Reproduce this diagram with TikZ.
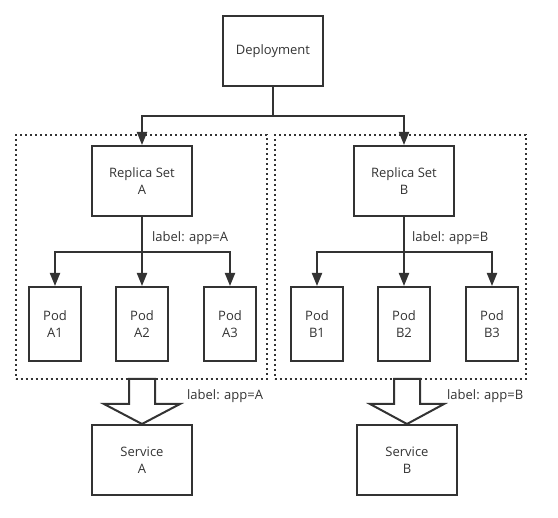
\documentclass[tikz,border=0pt]{standalone}
\usepackage{fontspec}
\setmainfont{Open Sans}
\usetikzlibrary{arrows.meta,positioning}
\definecolor{ink}{HTML}{333333}

\begin{document}
\begin{tikzpicture}[x=1pt,y=-1pt,font=\fontsize{13}{17}\selectfont,>={Triangle[length=13pt,width=10pt]},
box/.style={draw=ink,line width=2pt,text=ink,minimum width=100pt,minimum height=70pt,align=center,inner sep=0pt},
pod/.style={box,minimum width=52pt,minimum height=74pt},
group/.style={draw=ink,line width=2pt,dash pattern=on 2pt off 3pt,minimum width=251pt,minimum height=244pt,inner sep=0pt},
arr/.style={->,draw=ink,line width=2pt},
fat/.style={draw=ink,line width=2pt,fill=white,line join=miter},
lbl/.style={text=ink,anchor=west,inner sep=0pt}]
\useasboundingbox (0,0) rectangle (558,518);
\node[box] (dep) at (273,51) {Deployment};
\node[group] (grpA) at (141,257) {};
\node[group] (grpB) at (400,257) {};
\node[box] (rsA) at (142,181) {Replica Set\\A};
\node[box] (rsB) at (404,181) {Replica Set\\B};
\node[pod] (podA1) at (55,324) {Pod\\A1};
\node[pod] (podA2) at (142,324) {Pod\\A2};
\node[pod] (podA3) at (230,324) {Pod\\A3};
\node[pod] (podB1) at (317,324) {Pod\\B1};
\node[pod] (podB2) at (404,324) {Pod\\B2};
\node[pod] (podB3) at (492,324) {Pod\\B3};
\node[box] (svcA) at (142,460) {Service\\A};
\node[box] (svcB) at (407,460) {Service\\B};
\coordinate (split) at (273,116);
\coordinate (busA) at (142,252);
\coordinate (busB) at (404,252);
\draw[arr] (dep.south) -- (split) -| (rsA.north);
\draw[arr] (split) -| (rsB.north);
\draw[arr] (rsA.south) -- (podA2.north);
\draw[arr] (busA) -| (podA1.north);
\draw[arr] (busA) -| (podA3.north);
\draw[arr] (rsB.south) -- (podB2.north);
\draw[arr] (busB) -| (podB1.north);
\draw[arr] (busB) -| (podB3.north);
\node[lbl] (lblA) at (152,238) {label: app=A};
\node[lbl] (lblB) at (412,238) {label: app=B};
\draw[fat] (svcA.north) -- ++(-38,-20) -- ++(25,0) -- ++(0,-25) -- ++(26,0) -- ++(0,25) -- ++(25,0) -- cycle;
\draw[fat] (svcB.north) -- ++(-37,-20) -- ++(24,0) -- ++(0,-25) -- ++(26,0) -- ++(0,25) -- ++(24,0) -- cycle;
\node[lbl] (selA) at (187,396) {label: app=A};
\node[lbl] (selB) at (447,396) {label: app=B};
\end{tikzpicture}
\end{document}
